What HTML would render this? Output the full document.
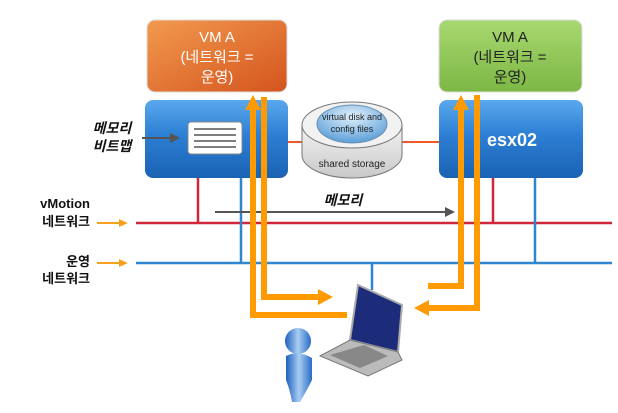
<!DOCTYPE html>
<html><head><meta charset="utf-8"><style>
body{margin:0;background:#fff;}
svg{display:block;font-family:"Liberation Sans","Noto Sans CJK KR",sans-serif;}
</style></head><body>
<svg width="618" height="413" viewBox="0 0 618 413" xmlns="http://www.w3.org/2000/svg">
<defs>
<linearGradient id="og" x1="0" y1="0" x2="1" y2="1"><stop offset="0" stop-color="#f29a4e"/><stop offset="1" stop-color="#d4541e"/></linearGradient>
<linearGradient id="gg" x1="0" y1="0" x2="0" y2="1"><stop offset="0" stop-color="#a8d870"/><stop offset="1" stop-color="#7cb744"/></linearGradient>
<linearGradient id="bg" x1="0" y1="0" x2="0" y2="1"><stop offset="0" stop-color="#5aa8ee"/><stop offset="0.45" stop-color="#2c7fd4"/><stop offset="1" stop-color="#1a62b4"/></linearGradient>
<linearGradient id="cyl" x1="0" y1="0" x2="0" y2="1"><stop offset="0" stop-color="#f4f4f4"/><stop offset="1" stop-color="#c8c8c8"/></linearGradient>
<radialGradient id="disk" cx="0.5" cy="0.3" r="0.7"><stop offset="0" stop-color="#e0f0fc"/><stop offset="1" stop-color="#5b9fd8"/></radialGradient>
<linearGradient id="pers" x1="0" y1="0" x2="1" y2="0"><stop offset="0" stop-color="#1e5fbf"/><stop offset="0.5" stop-color="#a8cdf2"/><stop offset="1" stop-color="#2a6cc8"/></linearGradient>
</defs>
<!-- VM boxes -->
<rect x="147" y="20" width="140" height="72" rx="8" fill="url(#og)" stroke="#ddd"/>
<text x="217" y="42" font-size="15" fill="#fff" text-anchor="middle">VM A</text>
<text x="217" y="62" font-size="15" fill="#fff" text-anchor="middle">(네트워크 =</text>
<text x="217" y="82" font-size="15" fill="#fff" text-anchor="middle">운영)</text>
<rect x="439" y="20" width="143" height="72" rx="8" fill="url(#gg)" stroke="#ddd"/>
<text x="510" y="42" font-size="15" fill="#222" text-anchor="middle">VM A</text>
<text x="510" y="62" font-size="15" fill="#222" text-anchor="middle">(네트워크 =</text>
<text x="510" y="82" font-size="15" fill="#222" text-anchor="middle">운영)</text>
<!-- hosts -->
<line x1="288" y1="142" x2="440" y2="142" stroke="#f05a28" stroke-width="2"/>
<rect x="145" y="100" width="143" height="78" rx="8" fill="url(#bg)"/>
<rect x="439" y="100" width="144" height="78" rx="8" fill="url(#bg)"/>
<text x="487" y="146" font-size="18" font-weight="bold" fill="#fff">esx02</text>
<rect x="188" y="122" width="54" height="32" rx="3" fill="#fff" stroke="#888"/>
<g stroke="#555" stroke-width="1.5"><line x1="194" y1="129" x2="236" y2="129"/><line x1="194" y1="135" x2="236" y2="135"/><line x1="194" y1="141" x2="236" y2="141"/><line x1="194" y1="147" x2="236" y2="147"/></g>
<line x1="142" y1="138" x2="172" y2="138" stroke="#555" stroke-width="2"/>
<polygon points="180,138 170,133 170,143" fill="#555"/>
<text x="112" y="133" font-size="14" font-weight="bold" font-style="italic" text-anchor="middle" fill="#111">메모리</text>
<text x="112" y="151" font-size="14" font-weight="bold" font-style="italic" text-anchor="middle" fill="#111">비트맵</text>
<!-- storage -->
<path d="M302,125 L302,155 A50,23 0 0 0 402,155 L402,125" fill="url(#cyl)" stroke="#777"/>
<ellipse cx="352" cy="125" rx="50" ry="23" fill="#f2f2f2" stroke="#777"/>
<ellipse cx="352" cy="124" rx="35" ry="19" fill="url(#disk)" stroke="#6a8fb0"/>
<text x="352" y="120" font-size="9" text-anchor="middle" fill="#222">virtual disk and</text>
<text x="352" y="132" font-size="9" text-anchor="middle" fill="#222">config files</text>
<text x="352" y="167" font-size="10" text-anchor="middle" fill="#222">shared storage</text>
<!-- networks -->
<g stroke="#d0263a" stroke-width="2.5"><line x1="136" y1="223" x2="612" y2="223"/><line x1="198" y1="178" x2="198" y2="223"/><line x1="493" y1="178" x2="493" y2="223"/></g>
<g stroke="#2f86d0" stroke-width="2.5"><line x1="136" y1="263" x2="612" y2="263"/><line x1="241" y1="178" x2="241" y2="263"/><line x1="535" y1="178" x2="535" y2="263"/><line x1="372" y1="263" x2="372" y2="290"/></g>
<text x="90" y="208" font-size="13" font-weight="bold" text-anchor="end" fill="#111">vMotion</text>
<text x="90" y="226" font-size="13" font-weight="bold" text-anchor="end" fill="#111">네트워크</text>
<text x="90" y="266" font-size="13" font-weight="bold" text-anchor="end" fill="#111">운영</text>
<text x="90" y="283" font-size="13" font-weight="bold" text-anchor="end" fill="#111">네트워크</text>
<g stroke="#f7a020" stroke-width="2"><line x1="97" y1="223" x2="120" y2="223"/><line x1="97" y1="263" x2="120" y2="263"/></g>
<polygon points="128,223 119,219 119,227" fill="#f7a020"/><polygon points="128,263 119,259 119,267" fill="#f7a020"/>
<line x1="215" y1="212" x2="446" y2="212" stroke="#555" stroke-width="2"/>
<polygon points="455,212 445,207 445,217" fill="#555"/>
<text x="343" y="205" font-size="14" font-weight="bold" font-style="italic" text-anchor="middle" fill="#111">메모리</text>
<!-- orange paths -->
<g fill="none" stroke="#ff9a00" stroke-width="6">
<path d="M253,108 L253,315 L347,315"/>
<path d="M264,97 L264,297 L320,297"/>
<path d="M461,108 L461,286 L428,286"/>
<path d="M477,95 L477,308 L428,308"/>
</g>
<polygon points="253,95 245,110 261,110" fill="#ff9a00"/>
<polygon points="461,95 453,110 469,110" fill="#ff9a00"/>
<polygon points="333,297 318,289 318,305" fill="#ff9a00"/>
<polygon points="414,308 429,300 429,316" fill="#ff9a00"/>
<!-- laptop -->
<polygon points="358,285 402,305 398,352 350,340" fill="#1c2c7a" stroke="#aaa" stroke-width="2"/>
<polygon points="350,340 398,352 402,360 368,376 320,356" fill="#bbb" stroke="#777"/>
<polygon points="330,355 364,345 388,356 360,368" fill="#888"/>
<!-- person -->
<circle cx="298" cy="341" r="13" fill="url(#pers)"/>
<path d="M286,356 Q298,350 312,358 L312,380 Q306,392 300,402 L292,402 Q290,390 286,380 Z" fill="url(#pers)"/>
</svg>
</body></html>
